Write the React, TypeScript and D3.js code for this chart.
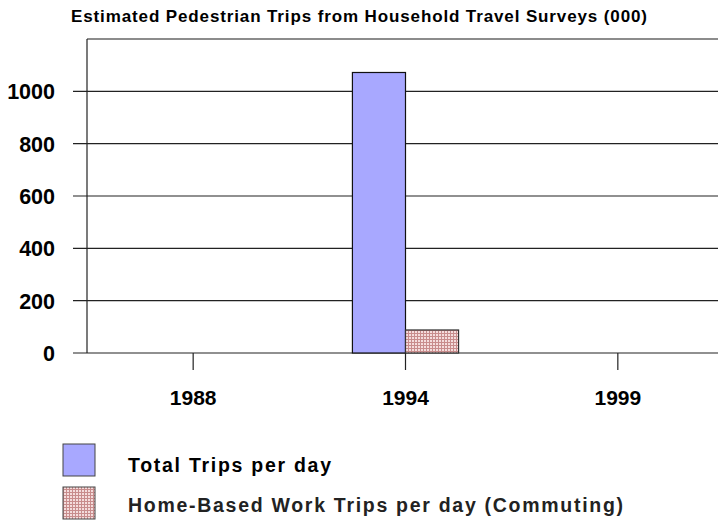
import React, { useEffect, useRef } from 'react';
import * as d3 from 'd3';

const years = ['1988', '1994', '1999'];
const totalTrips = [0, 1072, 0];
const workTrips = [0, 88, 0];
const yTicks = [0, 200, 400, 600, 800, 1000];
const seriesNames = ['Total Trips per day', 'Home-Based Work Trips per day (Commuting)'];

const font = 'Arial, "Liberation Sans", sans-serif';

function App() {
  const ref = useRef<SVGSVGElement>(null);

  useEffect(() => {
    const svg = d3.select(ref.current);
    svg.selectAll('*').remove();

    const left = 87, top = 39, bottom = 353, right = 718;

    const defs = svg.append('defs');
    const pat = defs.append('pattern')
      .attr('id', 'hatch')
      .attr('patternUnits', 'userSpaceOnUse')
      .attr('width', 3).attr('height', 3);
    pat.append('rect').attr('width', 3).attr('height', 3).attr('fill', '#f4dcdc');
    pat.append('path').attr('d', 'M0,0.5H3M0.5,0V3').attr('stroke', '#c88c8c').attr('stroke-width', 1);

    const x = d3.scaleBand().domain(years).range([left, 724]);
    const y = d3.scaleLinear().domain([0, 1200]).range([bottom, top]);

    svg.append('text')
      .attr('x', 71).attr('y', 22)
      .attr('font-family', font).attr('font-weight', 'bold').attr('font-size', 17)
      .attr('textLength', 576).attr('lengthAdjust', 'spacing')
      .text('Estimated Pedestrian Trips from Household Travel Surveys (000)');

    // frame
    svg.append('line').attr('x1', left).attr('x2', right).attr('y1', top).attr('y2', top)
      .attr('stroke', '#666').attr('stroke-width', 1.5);
    svg.append('line').attr('x1', left).attr('x2', left).attr('y1', top).attr('y2', bottom)
      .attr('stroke', '#222').attr('stroke-width', 1.2);

    // gridlines + y labels
    const g = svg.append('g');
    g.selectAll('line.grid').data(yTicks).enter().append('line')
      .attr('class', 'grid')
      .attr('x1', 73).attr('x2', right)
      .attr('y1', d => y(d)).attr('y2', d => y(d))
      .attr('stroke', '#222').attr('stroke-width', 1.2);
    g.selectAll('text.ylab').data(yTicks).enter().append('text')
      .attr('class', 'ylab')
      .attr('x', 55).attr('y', d => y(d) + 8)
      .attr('text-anchor', 'end')
      .attr('font-family', font).attr('font-weight', 'bold').attr('font-size', 21.5)
      .text(d => d);

    // bars
    const bw = x.bandwidth() / 4;
    const bars = svg.append('g');
    years.forEach((yr, i) => {
      const cx = (x(yr) as number) + x.bandwidth() / 2;
      bars.append('rect')
        .attr('x', cx - bw).attr('y', y(totalTrips[i]))
        .attr('width', bw).attr('height', bottom - y(totalTrips[i]))
        .attr('fill', '#a8a8ff').attr('stroke', '#111').attr('stroke-width', 1.2);
      bars.append('rect')
        .attr('x', cx).attr('y', y(workTrips[i]))
        .attr('width', bw).attr('height', bottom - y(workTrips[i]))
        .attr('fill', 'url(#hatch)').attr('stroke', '#333').attr('stroke-width', 1.2);
    });

    // x ticks + labels
    const xa = svg.append('g');
    xa.selectAll('line').data(years).enter().append('line')
      .attr('x1', d => (x(d) as number) + x.bandwidth() / 2)
      .attr('x2', d => (x(d) as number) + x.bandwidth() / 2)
      .attr('y1', bottom).attr('y2', bottom + 17)
      .attr('stroke', '#222').attr('stroke-width', 1.2);
    xa.selectAll('text').data(years).enter().append('text')
      .attr('x', d => (x(d) as number) + x.bandwidth() / 2)
      .attr('y', 405)
      .attr('text-anchor', 'middle')
      .attr('font-family', font).attr('font-weight', 'bold').attr('font-size', 21)
      .text(d => d);

    // legend
    const fills = ['#a8a8ff', 'url(#hatch)'];
    const widths = [203, 495];
    const lg = svg.append('g');
    seriesNames.forEach((name, i) => {
      lg.append('rect')
        .attr('x', 63).attr('y', 444 + i * 43)
        .attr('width', 32).attr('height', 32)
        .attr('fill', fills[i]).attr('stroke', '#444').attr('stroke-width', 1);
      lg.append('text')
        .attr('x', 128).attr('y', 472 + i * 40)
        .attr('font-family', font).attr('font-weight', 'bold')
        .attr('fill', i === 0 ? '#000' : '#222')
        .attr('font-size', 19.5)
        .attr('textLength', widths[i]).attr('lengthAdjust', 'spacing')
        .text(name);
    });
  }, []);

  return (
    <svg ref={ref} width={718} height={521}
      style={{ position: 'absolute', left: 0, top: 0, background: '#fff' }} />
  );
}

export default App;
